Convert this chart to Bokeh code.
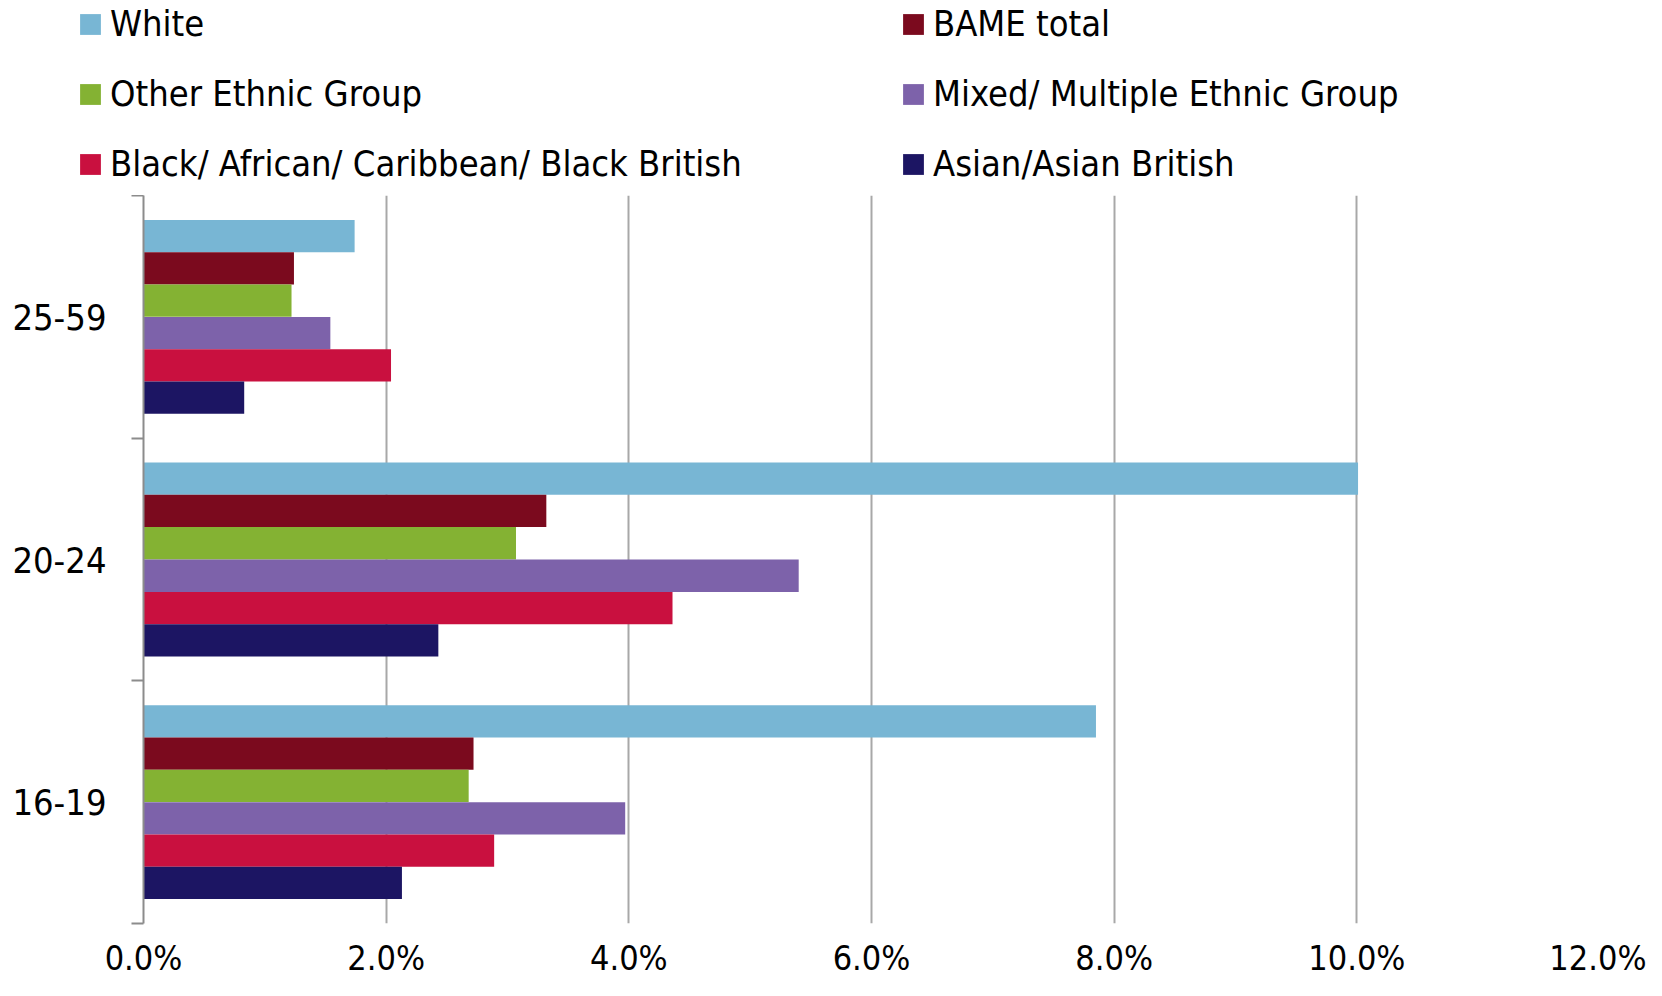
from bokeh.plotting import figure
from bokeh.models import (Range1d, LinearAxis, CategoricalAxis, FixedTicker,
                          NumeralTickFormatter, Legend, LegendItem, FactorRange)
from bokeh.layouts import column
from bokeh.transform import dodge
from bokeh.embed import file_html
from bokeh.resources import INLINE

ages = ["16-19", "20-24", "25-59"]
series = ["White", "BAME total", "Other Ethnic Group",
          "Mixed/ Multiple Ethnic Group",
          "Black/ African/ Caribbean/ Black British", "Asian/Asian British"]
colors = ["#78B6D4", "#7B0A1E", "#84B233", "#7D62AA", "#C9103F", "#1C1563"]

white = [0.0785, 0.1001, 0.0174]
bame = [0.0272, 0.0332, 0.0124]
other = [0.0268, 0.0307, 0.0122]
mixed = [0.0397, 0.0540, 0.0154]
black = [0.0289, 0.0436, 0.0204]
asian = [0.0213, 0.0243, 0.0083]
values = [white, bame, other, mixed, black, asian]

x_ticks = [0.0, 0.02, 0.04, 0.06, 0.08, 0.10, 0.12]
bounds = [0, 1, 2, 3]

FONT = "DejaVu Sans Condensed, DejaVu Sans"
W = 1646
LEG_H = 195
MAIN_H = 785

# ---------------- main chart ----------------
p = figure(width=W, height=MAIN_H, output_backend="svg", toolbar_location=None,
           y_range=FactorRange(*ages, range_padding=0, factor_padding=0),
           x_range=Range1d(0, 0.12), y_axis_location=None,
           min_border_left=143, min_border_right=47, min_border_top=0,
           min_border_bottom=43)
p.outline_line_color = None
p.background_fill_color = "white"

offsets = [0.333, 0.2, 0.067, -0.067, -0.2, -0.333]
for s, c, v, off in zip(series, colors, values, offsets):
    src = {"age": ages, "val": v}
    p.hbar(y=dodge("age", off, range=p.y_range), right="val", left=0,
           height=0.133, source=src, fill_color=c, line_color=None)

xa = p.xaxis[0]
xa.ticker = FixedTicker(ticks=x_ticks)
xa.formatter = NumeralTickFormatter(format="0.0%")
xa.axis_line_color = None
xa.major_tick_line_color = None
xa.minor_tick_line_color = None
xa.major_label_text_font = FONT
xa.major_label_text_font_size = "34px"
xa.major_label_text_color = "black"
xa.major_label_standoff = 8

p.xgrid.ticker = FixedTicker(ticks=x_ticks)
p.xgrid.grid_line_color = "#A8A8A8"
p.xgrid.grid_line_width = 2
p.ygrid.grid_line_color = None

# boundary axis (category separators at synthetic coords 0..3)
ba = LinearAxis(ticker=FixedTicker(ticks=bounds),
                major_label_overrides={b: "" for b in bounds},
                major_label_standoff=0,
                axis_line_color="#8C8C8C", axis_line_width=2,
                major_tick_line_color="#8C8C8C", major_tick_line_width=2,
                major_tick_out=12, major_tick_in=0, minor_tick_line_color=None)
p.add_layout(ba, "left")

ya = CategoricalAxis(axis_line_color=None, major_tick_line_color=None,
                     minor_tick_line_color=None,
                     major_label_text_font=FONT,
                     major_label_text_font_size="36px",
                     major_label_text_color="black",
                     major_label_standoff=19)
p.add_layout(ya, "left")

# ---------------- legend strip ----------------
lg = figure(width=W, height=LEG_H, output_backend="svg", toolbar_location=None,
            x_range=Range1d(0, 0.12), y_range=FactorRange(*ages),
            x_axis_location=None, y_axis_location=None,
            min_border=0)
lg.outline_line_color = None
lg.xgrid.grid_line_color = None
lg.ygrid.grid_line_color = None
loc_x = -66
if "frame_align" in lg.properties():
    lg.frame_align = False
    loc_x = 77

leg_renderers = []
for c, v in zip(colors, values):
    # zero-height bars: nothing visible in the strip, only the legend swatch
    r = lg.hbar(y=ages, right=v, left=0, height=0, fill_color=c, line_color=None)
    leg_renderers.append(r)

items = [LegendItem(label=s, renderers=[r]) for s, r in zip(series, leg_renderers)]
legend = Legend(items=items, orientation="horizontal", ncols=2,
                location=(loc_x, 11), padding=0, margin=0, spacing=29,
                glyph_width=26, glyph_height=26, label_height=40,
                label_width=761, label_standoff=7,
                label_text_font=FONT, label_text_font_size="36px",
                label_text_color="black",
                border_line_color=None, background_fill_alpha=0)
lg.add_layout(legend, "center")

layout = column(lg, p, spacing=0)
open("out.html", "w").write(file_html(layout, INLINE))
